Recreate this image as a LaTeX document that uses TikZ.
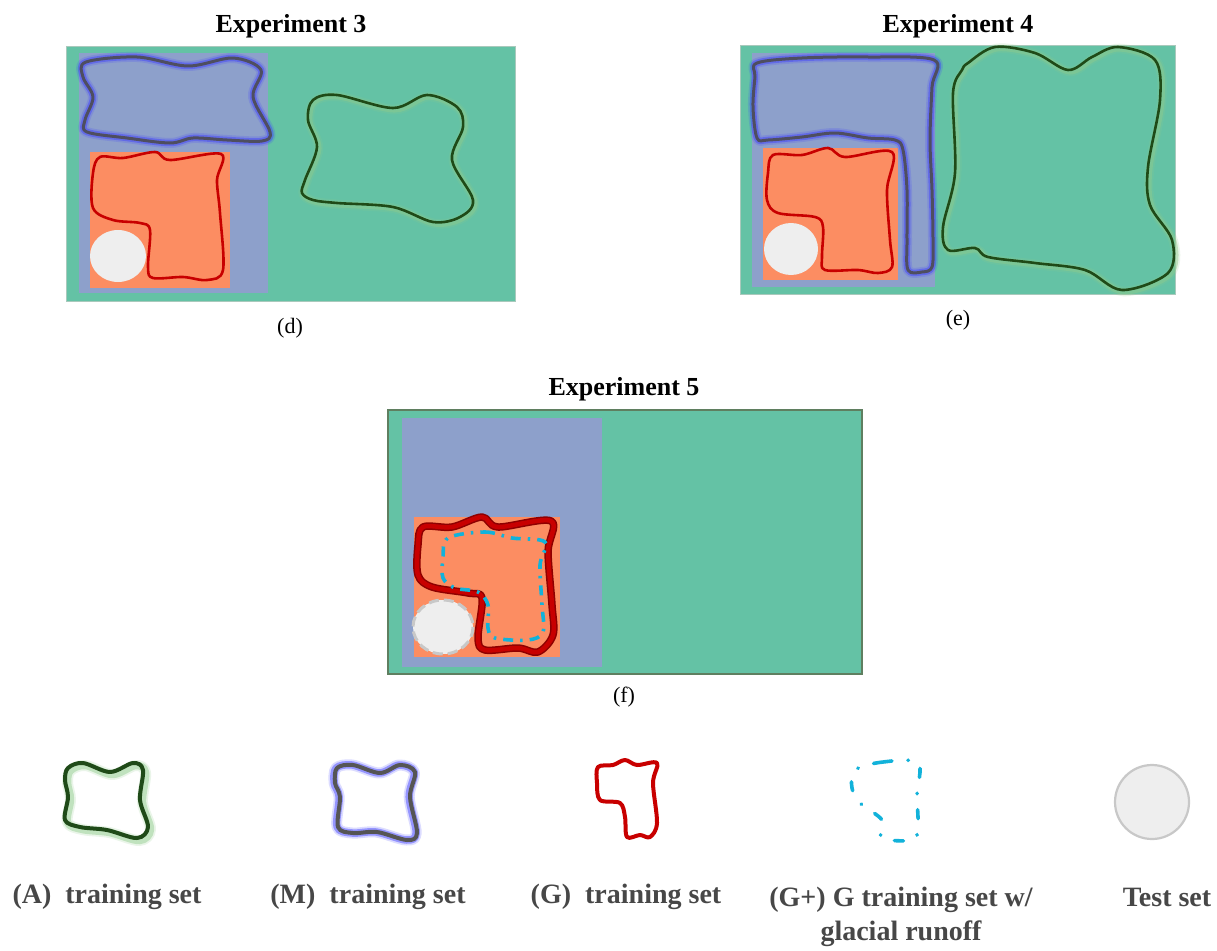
\documentclass[tikz,border=0pt]{standalone}
\usepackage{fontspec}
\setmainfont{Liberation Serif}
\definecolor{land}{HTML}{64C2A5}
\definecolor{mreg}{HTML}{8DA0CB}
\definecolor{greg}{HTML}{FC8D62}
\definecolor{testc}{HTML}{EEEEEE}
\definecolor{testedge}{HTML}{C8C8C8}
\definecolor{redl}{HTML}{C80000}
\definecolor{redd}{HTML}{8E0000}
\definecolor{grnl}{HTML}{1F4A18}
\definecolor{grnglow}{HTML}{8FCB8A}
\definecolor{mline}{HTML}{4E4E60}
\definecolor{mglow}{HTML}{4040FF}
\definecolor{cyanl}{HTML}{12B2DA}
\definecolor{legtext}{HTML}{474747}
\definecolor{legline}{HTML}{555555}
\definecolor{frameA}{HTML}{A9C9BC}
\definecolor{frameB}{HTML}{5F7F60}

% outline with a soft halo: #1 halo colour, #2 line colour, #3 width, #4 halo shift, #5 points
\newcommand\haloline[5]{%
  \draw[#1, line width=#3+7pt, opacity=0.18, shift={#4}, line join=round]
    plot[smooth cycle, tension=0.55] coordinates {#5};
  \draw[#1, line width=#3+3.5pt, opacity=0.45, shift={#4}, line join=round]
    plot[smooth cycle, tension=0.55] coordinates {#5};
  \draw[#2, line width=#3, line join=round]
    plot[smooth cycle, tension=0.55] coordinates {#5};
}

\tikzset{
  title/.style={font=\fontsize{26}{30}\selectfont\bfseries, text=black},
  subcap/.style={font=\fontsize{22}{26}\selectfont, text=black},
  legend/.style={font=\fontsize{28}{34}\selectfont\bfseries, text=legtext, align=center},
  redline/.style={redl, line width=2.6pt, line join=round},
  plusline/.style={cyanl, line width=3.6pt, dash pattern=on 10pt off 7pt on 2.5pt off 7pt},
  pluskey/.style={cyanl, line width=3.6pt, line cap=round, dash pattern=on 9pt off 16pt on 0.5pt off 16pt},
  testset/.style={fill=testc, draw=none},
}

\begin{document}
\begin{tikzpicture}[x=1pt, y=-1pt]
\useasboundingbox (0,0) rectangle (1217,950);
\fill[white] (0,0) rectangle (1217,950);

% ---------- Experiment 3 ----------
\node[title] (t3) at (291,26) {Experiment 3};
\fill[land] (66,46) rectangle (515,301);
\draw[frameA, line width=0.8pt] (66,46) rectangle (515,301);
\fill[mreg] (79,53) rectangle (268,293);
\fill[greg] (90,152) rectangle (230,288);
\fill[testset] (118,256) ellipse [x radius=28, y radius=26];
\haloline{mglow}{mline}{3pt}{(0,0)}{(86,62) (137,57) (188,66) (233,58) (261,70) (253,97) (270,132) (262,141) (227,140) (193,138) (170,143) (127,138) (87,132) (85,120) (93,97) (83,77)}
\draw[redline] plot[smooth cycle, tension=0.55] coordinates {(100,157) (123,158) (155,152) (170,160) (221,154) (217,180) (220,213) (223,270) (207,280) (183,277) (153,278) (148,267) (150,230) (140,223) (113,220) (93,208) (93,173)};
\haloline{grnglow}{grnl}{2.6pt}{(1.5,1.5)}{(313,100) (337,95) (393,108) (427,95) (457,107) (463,127) (452,160) (473,200) (460,217) (433,222) (393,207) (337,203) (313,200) (302,193) (305,180) (317,147) (308,120)}
\node[subcap] (cd) at (290,328) {(d)};

% ---------- Experiment 4 ----------
\node[title] (t4) at (958,26) {Experiment 4};
\fill[land] (740,45) rectangle (1175,294);
\draw[frameA, line width=0.8pt] (740,45) rectangle (1175,294);
\fill[mreg] (752,53) rectangle (935,287);
\fill[greg] (763,148) rectangle (898,280);
\fill[testset] (791,249) ellipse [x radius=27, y radius=26];
\haloline{mglow}{mline}{3pt}{(0,0)}{(757,63) (802,58) (868,57) (934,60) (932,87) (930,140) (932,190) (933,240) (932,267) (922,272) (908,270) (907,240) (907,190) (903,150) (895,140) (868,138) (835,133) (802,137) (768,140) (757,138) (753,107) (755,77)}
\draw[redline] plot[smooth cycle, tension=0.55] coordinates {(773,155) (802,155) (828,148) (845,157) (892,152) (887,190) (890,240) (892,267) (878,273) (858,270) (825,270) (822,257) (823,227) (815,217) (778,213) (767,200) (768,173)};
\haloline{grnglow}{grnl}{2.6pt}{(1.5,1.5)}{(968,63) (995,47) (1035,53) (1068,70) (1092,57) (1118,47) (1155,60) (1160,100) (1148,167) (1150,205) (1172,240) (1168,273) (1122,290) (1085,270) (1035,263) (988,257) (975,248) (948,250) (943,227) (955,173) (953,93) (962,70)}
\node[subcap] (ce) at (958,320) {(e)};

% ---------- Experiment 5 ----------
\node[title] (t5) at (624,389) {Experiment 5};
\fill[land] (388,410) rectangle (862,674);
\draw[frameB, line width=2pt] (388,410) rectangle (862,674);
\fill[mreg] (402,418) rectangle (602,667);
\fill[greg] (414,517) rectangle (560,657);
\draw[redd, line width=7.5pt, line join=round] plot[smooth cycle, tension=0.55] coordinates {(423,527) (452,527) (482,517) (498,527) (551,521) (548,552) (552,605) (553,635) (538,652) (518,648) (485,650) (478,638) (482,598) (468,593) (432,587) (418,575) (418,545)};
\draw[redl, line width=4.5pt, line join=round] plot[smooth cycle, tension=0.55] coordinates {(423,527) (452,527) (482,517) (498,527) (551,521) (548,552) (552,605) (553,635) (538,652) (518,648) (485,650) (478,638) (482,598) (468,593) (432,587) (418,575) (418,545)};
\draw[plusline] plot[smooth cycle, tension=0.55] coordinates {(448,538) (485,532) (512,538) (545,542) (540,565) (542,605) (543,632) (528,640) (495,638) (488,628) (488,605) (478,592) (455,588) (443,578) (443,558)};
\fill[testset] (443,627) ellipse [x radius=30, y radius=27];
\draw[testedge, line width=3pt, dash pattern=on 10pt off 5pt] (443,627) ellipse [x radius=30, y radius=27];
\node[subcap] (cf) at (624,697) {(f)};

% ---------- Legend ----------
\haloline{grnglow}{grnl}{4pt}{(2.5,2.5)}{(68,768) (83,763) (110,772) (133,763) (143,770) (140,800) (148,827) (137,838) (107,830) (80,827) (65,820) (68,797) (65,780)}
\haloline{mglow}{legline}{4pt}{(-0.8,0)}{(337,768) (353,765) (380,773) (400,765) (415,772) (410,797) (417,833) (407,840) (377,832) (353,833) (338,827) (340,797) (335,783)}
\draw[redl, line width=4pt, line join=round] plot[smooth cycle, tension=0.55] coordinates {(598,767) (613,765) (625,760) (637,765) (657,763) (653,783) (657,823) (650,837) (640,835) (627,837) (625,817) (620,803) (600,800) (597,783)};
\draw[pluskey] plot[smooth cycle, tension=0.55] coordinates {(855,770) (883,762) (918,763) (917,795) (918,828) (912,840) (882,838) (882,820) (860,803) (852,788)};
\draw[fill=testc, draw=testedge, line width=2.2pt] (1152,802) circle [radius=37];

\node[legend] (la) at (107,897) {(A)\ \ training set};
\node[legend] (lm) at (368,897) {(M)\ \ training set};
\node[legend] (lg) at (626,897) {(G)\ \ training set};
\node[legend] (lgp) at (901,917) {(G+) G training set w/\\glacial runoff};
\node[legend] (lt) at (1167,897) {Test set};
\end{tikzpicture}
\end{document}
